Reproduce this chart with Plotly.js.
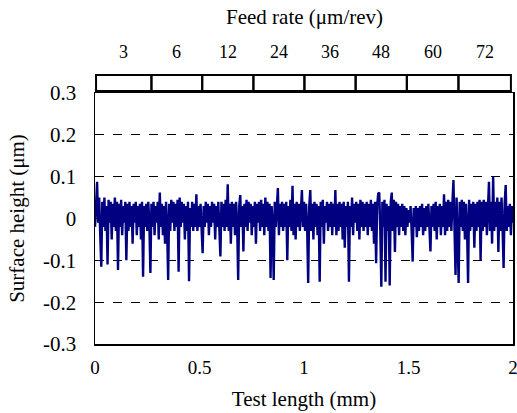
<!DOCTYPE html>
<html>
<head>
<meta charset="utf-8">
<script src="https://cdn.plot.ly/plotly-3.0.1.min.js"></script>
<style>html,body{margin:0;padding:0;background:#fff;}#chart{width:517px;height:413px;}</style>
</head>
<body>
<div id="chart"></div>
<script>
// Surface height profile (µm), sampled every 0.005 mm from 0 to 2 mm
var surfaceHeight = [
 -0.02, 0.03, 0.088, -0.01, 0.05, -0.04, -0.115, 0.04, -0.02, 0.05, -0.03, 0.03, -0.11, 0.045, -0.01, 0.04, -0.05, 0.035, -0.02, 0.05,
 -0.03, 0.04, -0.123, 0.035, -0.02, 0.045, -0.04, 0.03, -0.01, 0.04, -0.1, 0.035, -0.03, 0.04, -0.02, 0.03, -0.06, 0.035, -0.01, 0.04,
 -0.04, 0.03, -0.02, 0.035, -0.05, 0.04, -0.139, 0.03, -0.02, 0.035, -0.03, 0.04, -0.01, -0.13, 0.035, -0.02, 0.04, -0.04, 0.03, -0.01,
 0.04, -0.05, 0.062, -0.02, 0.035, -0.04, 0.03, -0.06, 0.04, -0.02, -0.147, 0.035, -0.03, 0.045, -0.01, 0.04, -0.03, 0.035, -0.02, 0.045,
 -0.127, 0.05, -0.02, 0.04, -0.01, 0.035, -0.05, 0.03, -0.03, 0.04, -0.15, 0.025, -0.02, 0.04, -0.03, 0.035, -0.02, 0.058, -0.03, 0.03,
 -0.02, 0.035, -0.04, -0.083, 0.03, -0.02, 0.04, -0.01, 0.035, -0.04, 0.03, -0.02, 0.04, -0.01, 0.035, -0.05, 0.03, -0.02, 0.04, -0.03,
 -0.091, 0.04, -0.02, 0.035, -0.03, 0.045, -0.02, 0.082, -0.03, 0.035, -0.06, 0.04, -0.02, 0.035, -0.04, 0.04, -0.01, -0.147, 0.03, 0.056,
 -0.02, 0.03, -0.079, 0.035, -0.02, 0.045, -0.03, 0.04, -0.01, 0.035, -0.04, 0.03, -0.02, 0.04, -0.06, 0.035, -0.01, 0.04, -0.03, 0.045,
 -0.02, 0.035, -0.04, 0.05, -0.02, 0.04, -0.03, 0.035, -0.142, 0.03, -0.01, -0.147, 0.04, -0.02, 0.035, 0.073, -0.04, 0.035, -0.02, 0.04,
 -0.03, 0.035, -0.02, 0.04, -0.1, 0.03, -0.02, 0.045, -0.03, 0.078, -0.04, 0.035, -0.05, 0.04, -0.02, 0.035, -0.03, 0.04, 0.068, -0.02,
 0.04, -0.03, 0.035, -0.02, -0.154, 0.03, 0.068, -0.03, 0.035, -0.05, 0.04, -0.02, 0.035, -0.04, 0.03, -0.151, 0.04, -0.02, 0.045, -0.06,
 0.03, -0.01, 0.04, -0.03, 0.035, -0.02, 0.04, -0.04, 0.035, -0.02, 0.068, -0.04, 0.035, -0.03, 0.04, -0.02, 0.035, -0.05, 0.04, -0.07,
 0.03, -0.02, 0.04, -0.151, 0.03, -0.02, 0.05, -0.04, 0.035, -0.01, 0.04, -0.03, 0.035, -0.05, 0.045, -0.02, 0.04, -0.03, 0.035, -0.02,
 0.04, -0.04, 0.035, -0.02, 0.045, -0.03, 0.035, -0.06, 0.04, -0.107, 0.03, 0.059, 0.062, -0.03, -0.163, 0.04, -0.02, 0.045, -0.151, 0.035,
 -0.03, 0.03, -0.16, 0.04, 0.062, -0.03, 0.045, -0.08, 0.04, -0.02, 0.035, -0.04, 0.03, -0.02, 0.035, -0.03, 0.03, -0.04, 0.025, -0.02,
 0.02, -0.01, 0.03, -0.03, -0.103, 0.025, -0.02, 0.03, -0.045, 0.025, -0.03, 0.03, -0.02, 0.035, -0.04, 0.025, -0.03, 0.03, -0.02, 0.035,
 -0.04, -0.079, 0.03, -0.02, 0.035, -0.03, 0.04, -0.05, 0.03, -0.02, 0.035, -0.04, 0.03, -0.02, 0.058, -0.04, 0.04, -0.03, 0.045, -0.02,
 0.04, -0.03, 0.035, 0.092, -0.02, -0.135, 0.05, -0.03, -0.154, 0.04, -0.02, 0.045, -0.03, 0.04, -0.05, 0.035, -0.02, -0.154, 0.045, -0.03,
 0.035, -0.02, 0.04, -0.07, 0.035, -0.03, 0.04, -0.02, 0.045, -0.1, 0.04, -0.03, 0.045, -0.02, 0.04, -0.04, 0.035, 0.088, -0.03, 0.04,
 -0.06, 0.1, -0.03, 0.04, -0.02, 0.05, -0.08, 0.04, -0.03, 0.05, -0.02, -0.118, 0.035, 0.08, -0.03, 0.03, -0.02, 0.035, -0.04, 0.03,
 -0.01
];
var sampleStart = 0;
var sampleStep = 0.005;

// Feed-rate segments along the test length
var feedRates = ["3", "6", "12", "24", "36", "48", "60", "72"];
var feedBounds = [0.005, 0.27, 0.513, 0.758, 1.002, 1.247, 1.492, 1.739, 1.99];

// Axis ticks
var yTickVals = [-0.3, -0.2, -0.1, 0, 0.1, 0.2, 0.3];
var yTickText = ["-0.3", "-0.2", "-0.1", "0", "0.1", "0.2", "0.3"];
var xTickVals = [0, 0.5, 1, 1.5, 2];
var xTickText = ["0", "0.5", "1", "1.5", "2"];

var FONT = "Liberation Serif";

var shapes = [];
var annotations = [];
for (var i = 0; i < feedRates.length; i++) {
  shapes.push({
    type: "rect", xref: "x", yref: "paper",
    x0: feedBounds[i], x1: feedBounds[i + 1], y0: 1.008, y1: 1.072,
    line: {color: "#000", width: 2}, fillcolor: "rgba(0,0,0,0)"
  });
  annotations.push({
    xref: "x", yref: "paper",
    x: (feedBounds[i] + feedBounds[i + 1]) / 2, y: 1.163,
    text: feedRates[i], showarrow: false, yanchor: "middle",
    font: {family: FONT, size: 18, color: "#000"}
  });
}
annotations.push({
  xref: "paper", yref: "paper", x: 0.5, y: 1.303,
  text: "Feed rate (μm/rev)", showarrow: false, yanchor: "middle",
  font: {family: FONT, size: 21, color: "#000"}
});

var trace = {
  type: "scatter", mode: "lines",
  x0: sampleStart, dx: sampleStep, y: surfaceHeight,
  line: {color: "#000080", width: 2.4},
  hoverinfo: "none"
};

var layout = {
  width: 517, height: 413,
  margin: {l: 95, r: 4, t: 93, b: 69},
  paper_bgcolor: "#fff", plot_bgcolor: "#fff",
  showlegend: false,
  font: {family: FONT, size: 18, color: "#000"},
  xaxis: {
    range: [0, 2], tickvals: xTickVals, ticktext: xTickText,
    showgrid: false, zeroline: false,
    showline: true, mirror: true, linecolor: "#000", linewidth: 1.5,
    ticks: "", ticklabelstandoff: 6, ticklabeloverflow: "allow",
    tickfont: {family: FONT, size: 19, color: "#000"},
    title: {text: "Test length (mm)", font: {family: FONT, size: 21, color: "#000"}, standoff: 14}
  },
  yaxis: {
    range: [-0.3, 0.3], tickvals: yTickVals, ticktext: yTickText,
    showgrid: true, gridcolor: "#000", gridwidth: 1, griddash: "dash",
    zeroline: false,
    showline: true, mirror: true, linecolor: "#000", linewidth: 1.5,
    ticks: "", ticklabelstandoff: 13,
    tickfont: {family: FONT, size: 21, color: "#000"},
    title: {text: "Surface height (μm)", font: {family: FONT, size: 21, color: "#000"}, standoff: 12}
  },
  shapes: shapes,
  annotations: annotations
};

Plotly.newPlot("chart", [trace], layout, {displayModeBar: false, staticPlot: true});
</script>
</body>
</html>
